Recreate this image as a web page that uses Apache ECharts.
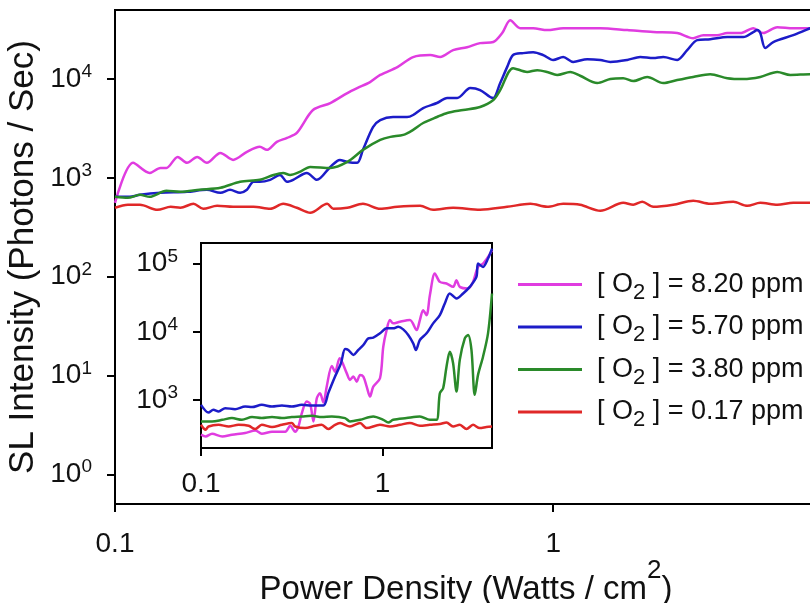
<!DOCTYPE html>
<html>
<head>
<meta charset="utf-8">
<title>SL intensity vs power density</title>
<script src="https://cdn.jsdelivr.net/npm/echarts@6/dist/echarts.min.js"></script>
<style>
  * { margin: 0; padding: 0; }
  #main { width: 810px; height: 603px; background: #fff; }
</style>
</head>
<body>
<div id="main"></div>
<script>
// points are [power density (W/cm2), SL intensity (photons/s)]
var main820 = [[0.1,559],[0.11,1420],[0.12,1120],[0.127,1260],[0.131,1260],[0.139,1630],[0.146,1420],[0.154,1630],[0.162,1420],[0.174,1790],[0.186,1520],[0.2,1830],[0.214,2060],[0.222,1920],[0.234,2310],[0.247,2540],[0.26,2850],[0.283,4860],[0.31,5720],[0.339,7220],[0.357,8110],[0.382,9320],[0.403,11000],[0.441,13200],[0.479,16700],[0.524,17500],[0.552,16700],[0.591,19600],[0.636,21000],[0.681,23100],[0.73,23700],[0.765,29200],[0.798,39400],[0.841,32700],[0.9,32700],[0.969,31300],[1.054,32700],[1.152,32700],[1.281,32700],[1.476,31300],[1.692,29900],[1.919,29200],[2.087,25900],[2.2,27800],[2.368,27800],[2.496,29200],[2.673,29200],[2.862,32700],[3.016,29200],[3.247,33500],[3.531,32700],[3.862,32700],[4.0,33000]];
var main570 = [[0.1,643],[0.108,643],[0.114,673],[0.127,705],[0.146,722],[0.162,757],[0.174,705],[0.183,757],[0.193,705],[0.2,757],[0.207,912],[0.214,912],[0.226,955],[0.238,1070],[0.247,912],[0.255,955],[0.274,1120],[0.289,955],[0.31,1290],[0.326,1520],[0.339,1450],[0.357,1420],[0.368,1920],[0.388,3270],[0.403,3850],[0.431,4130],[0.464,4130],[0.479,4330],[0.505,5090],[0.543,5720],[0.573,6430],[0.604,6430],[0.647,8110],[0.681,7740],[0.718,6580],[0.73,6430],[0.757,9110],[0.785,13200],[0.81,17500],[0.854,18300],[0.9,18700],[0.949,17500],[1.0,15600],[1.054,16700],[1.111,14900],[1.196,15900],[1.281,15600],[1.35,14900],[1.476,15600],[1.58,16700],[1.692,16300],[1.783,16700],[1.919,15600],[2.022,19600],[2.132,24800],[2.283,25300],[2.496,26600],[2.715,26600],[2.862,29900],[2.923,31300],[2.969,29200],[3.048,20600],[3.179,23700],[3.531,27800],[3.862,32700],[4.0,34000]];
var main380 = [[0.1,643],[0.107,628],[0.114,673],[0.12,643],[0.131,739],[0.141,722],[0.156,757],[0.174,793],[0.193,912],[0.214,955],[0.23,1070],[0.242,1120],[0.251,1070],[0.264,1150],[0.279,1290],[0.31,1260],[0.339,1450],[0.368,1920],[0.403,2420],[0.425,2600],[0.455,2720],[0.479,3060],[0.505,3590],[0.543,4130],[0.573,4540],[0.623,4860],[0.681,5220],[0.73,6140],[0.757,7740],[0.81,12900],[0.872,11800],[0.92,12300],[0.969,11800],[1.021,11000],[1.094,11800],[1.152,10800],[1.261,9110],[1.35,10000],[1.445,10200],[1.523,9540],[1.639,10500],[1.783,9110],[1.919,9770],[2.087,10500],[2.283,11200],[2.496,10200],[2.715,10000],[2.969,10500],[3.247,11800],[3.476,11000],[3.862,11200],[4.0,11000]];
var main017 = [[0.1,498],[0.107,534],[0.114,534],[0.125,475],[0.134,509],[0.141,498],[0.151,546],[0.159,486],[0.171,521],[0.186,509],[0.207,509],[0.226,486],[0.242,546],[0.26,498],[0.279,443],[0.305,546],[0.315,486],[0.339,498],[0.368,546],[0.403,486],[0.441,509],[0.497,521],[0.532,475],[0.591,498],[0.681,475],[0.785,509],[0.887,546],[0.969,509],[1.054,546],[1.152,534],[1.281,464],[1.445,559],[1.523,534],[1.597,573],[1.692,509],[1.879,534],[2.087,586],[2.283,546],[2.576,573],[2.773,521],[2.969,559],[3.247,534],[3.531,559],[3.862,559],[4.0,550]];

var inset820 = [[0.1,313],[0.106,295],[0.115,323],[0.131,295],[0.148,313],[0.175,331],[0.199,361],[0.216,323],[0.246,346],[0.291,346],[0.31,423],[0.33,346],[0.344,413],[0.359,648],[0.382,957],[0.399,886],[0.416,489],[0.434,1070],[0.452,1270],[0.472,925],[0.492,1580],[0.525,3180],[0.547,2620],[0.58,4100],[0.634,2490],[0.661,1980],[0.69,2220],[0.72,1870],[0.751,2350],[0.783,2220],[0.817,1580],[0.852,1130],[0.888,1580],[0.967,2100],[1.008,6070],[1.052,10640],[1.097,14900],[1.143,13330],[1.245,14070],[1.413,14900],[1.538,10640],[1.603,14900],[1.671,20800],[1.745,17600],[1.82,34500],[1.938,71500],[2.065,53900],[2.247,51100],[2.443,45600],[2.55,57100],[2.659,45600],[2.953,43200],[3.145,53900],[3.351,89300],[3.57,100100],[3.803,124900],[4.0,156500]];
var inset570 = [[0.1,856],[0.11,661],[0.117,724],[0.125,684],[0.136,766],[0.154,741],[0.175,809],[0.191,793],[0.216,856],[0.246,809],[0.279,837],[0.316,809],[0.359,856],[0.407,837],[0.472,837],[0.502,1270],[0.547,2220],[0.59,3500],[0.621,5600],[0.647,5440],[0.69,4600],[0.735,5440],[0.783,6430],[0.834,8050],[0.888,8220],[0.967,9530],[1.052,11270],[1.143,11270],[1.218,11890],[1.298,10900],[1.383,9000],[1.473,6810],[1.524,5440],[1.603,7610],[1.745,9530],[1.897,13330],[2.065,17600],[2.199,26100],[2.343,36500],[2.55,30900],[2.773,36500],[3.017,45600],[3.284,63800],[3.351,100000],[3.57,89300],[3.803,118400],[4.0,165700]];
var inset380 = [[0.1,489],[0.115,489],[0.131,517],[0.148,548],[0.168,517],[0.191,567],[0.216,548],[0.246,567],[0.279,548],[0.316,567],[0.359,578],[0.407,592],[0.462,567],[0.525,578],[0.621,548],[0.661,489],[0.751,517],[0.888,578],[1.008,517],[1.074,473],[1.143,517],[1.355,548],[1.603,578],[1.82,517],[1.98,517],[2.065,1270],[2.153,1500],[2.247,3100],[2.343,5130],[2.443,3480],[2.55,1340],[2.659,3890],[2.833,8050],[2.953,9000],[3.083,5440],[3.214,1200],[3.351,2350],[3.57,4340],[3.803,9530],[4.0,36500]];
var inset017 = [[0.1,437],[0.106,370],[0.11,413],[0.125,437],[0.142,413],[0.161,437],[0.183,423],[0.199,378],[0.216,437],[0.246,405],[0.279,437],[0.316,463],[0.33,413],[0.374,391],[0.425,423],[0.462,437],[0.502,378],[0.547,437],[0.583,463],[0.661,413],[0.751,463],[0.817,391],[0.967,437],[1.097,413],[1.245,437],[1.413,463],[1.603,423],[1.82,437],[2.065,448],[2.247,473],[2.443,413],[2.659,437],[2.894,378],[3.145,437],[3.424,391],[3.727,405],[4.0,413]];

var seriesNames = ['[ O2 ] = 8.20 ppm', '[ O2 ] = 5.70 ppm', '[ O2 ] = 3.80 ppm', '[ O2 ] = 0.17 ppm'];
var colors = ['#e03ce0', '#1c1cc8', '#2a8a2a', '#e02828'];
var xTicks = [0.1, 1];
var xTickLabels = ['0.1', '1'];
var mainYTicks = [1, 10, 100, 1000, 10000];
var insetYTicks = [1000, 10000, 100000];

var FONT = '"Liberation Sans", Arial, sans-serif';

function powLabel(v) {
  var e = Math.round(Math.log10(v));
  return '{b|10}{s|' + e + '}';
}
var powRich = {
  b: { fontSize: 28, fontFamily: FONT, color: '#111' },
  s: { fontSize: 19, fontFamily: FONT, color: '#111', padding: [0, 0, 14, 0] }
};

function xAxisOpt(grid, margin, name) {
  var a = {
    type: 'log', logBase: 10, gridIndex: grid, min: 0.1, max: 4,
    axisLine: { lineStyle: { color: '#000', width: 2 } },
    axisTick: { customValues: xTicks, length: 8, lineStyle: { color: '#000', width: 2 } },
    axisLabel: {
      customValues: xTicks, margin: margin,
      formatter: function (v) { return '{b|' + xTickLabels[v < 0.5 ? 0 : 1] + '}'; },
      rich: { b: { fontSize: 28, fontFamily: FONT, color: '#111' } }
    },
    splitLine: { show: false }
  };
  if (name) {
    a.name = name;
    a.nameLocation = 'middle';
    a.nameGap = 54;
    a.nameMoveOverlap = false;
    a.nameTextStyle = {
      fontSize: 33, fontFamily: FONT, color: '#111',
      rich: {
        t: { fontSize: 33, fontFamily: FONT, color: '#111' },
        s: { fontSize: 26, fontFamily: FONT, color: '#111', padding: [0, 0, 38, 0] }
      }
    };
  }
  return a;
}

function yAxisOpt(grid, min, max, ticks, name) {
  var a = {
    type: 'log', logBase: 10, gridIndex: grid, min: min, max: max,
    axisLine: { lineStyle: { color: '#000', width: 2 } },
    axisTick: { customValues: ticks, length: 8, lineStyle: { color: '#000', width: 2 } },
    axisLabel: { customValues: ticks, margin: 23, formatter: powLabel, rich: powRich },
    splitLine: { show: false }
  };
  if (name) {
    a.name = name;
    a.nameLocation = 'middle';
    a.nameRotate = 90;
    a.nameGap = 74;
    a.nameMoveOverlap = false;
    a.nameTextStyle = { fontSize: 35, fontFamily: FONT, color: '#111' };
  }
  return a;
}

var series = [];
[main820, main570, main380, main017].forEach(function (d, i) {
  series.push({
    name: seriesNames[i], type: 'line', xAxisIndex: 0, yAxisIndex: 0,
    data: d, showSymbol: false, smooth: 0.3,
    lineStyle: { width: 2.5, color: colors[i] }, itemStyle: { color: colors[i] }
  });
});
[inset820, inset570, inset380, inset017].forEach(function (d, i) {
  series.push({
    name: seriesNames[i], type: 'line', xAxisIndex: 1, yAxisIndex: 1,
    data: d, showSymbol: false, smooth: 0.3,
    lineStyle: { width: 2.5, color: colors[i] }, itemStyle: { color: colors[i] }
  });
});

var chart = echarts.init(document.getElementById('main'));
chart.setOption({
  animation: false,
  backgroundColor: '#fff',
  color: colors,
  grid: [
    { left: 115, top: 10, width: 702, height: 494, show: true, borderColor: '#000', borderWidth: 2, outerBoundsMode: 'none' },
    { left: 201, top: 243, width: 291, height: 205, show: true, borderColor: '#000', borderWidth: 2, backgroundColor: '#fff', outerBoundsMode: 'none' }
  ],
  xAxis: [
    xAxisOpt(0, 26, '{t|Power Density (Watts / cm}{s|2}{t|)}'),
    xAxisOpt(1, 22)
  ],
  yAxis: [
    yAxisOpt(0, 0.5, 50000, mainYTicks, 'SL Intensity (Photons / Sec)'),
    yAxisOpt(1, 200, 200000, insetYTicks)
  ],
  legend: {
    orient: 'vertical', left: 518, top: 271, padding: 0, itemGap: 10,
    itemWidth: 64, itemHeight: 3, icon: 'rect',
    data: seriesNames,
    formatter: function (n) { return n.replace('O2', 'O{sub|2}'); },
    textStyle: {
      fontSize: 27, fontFamily: FONT, color: '#111', padding: [0, 0, 0, 10],
      rich: { sub: { fontSize: 22, fontFamily: FONT, color: '#111', padding: [16, 0, 0, 0] } }
    }
  },
  series: series
});
</script>
</body>
</html>
